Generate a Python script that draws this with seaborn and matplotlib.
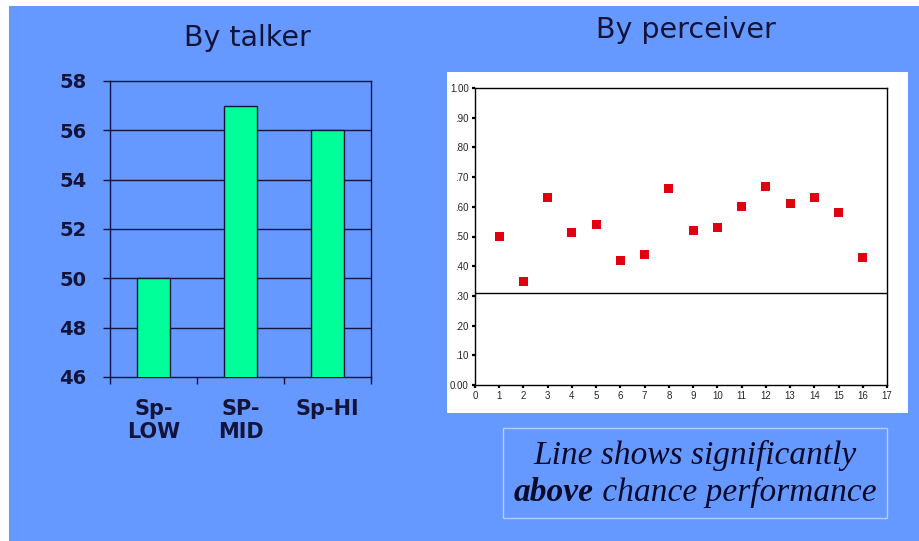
import numpy as np
import pandas as pd
import matplotlib
matplotlib.use("Agg")
import matplotlib.pyplot as plt
import seaborn as sns
from matplotlib.patches import Rectangle
from matplotlib.offsetbox import TextArea, HPacker, VPacker, AnchoredOffsetbox

# --- data ---
talker_labels = ["Sp-\nLOW", "SP-\nMID", "Sp-HI"]
talker_values = [50, 57, 56]

perceiver_ids = list(range(1, 17))
perceiver_scores = [0.50, 0.35, 0.63, 0.515, 0.54, 0.42, 0.44, 0.66,
                    0.52, 0.53, 0.60, 0.67, 0.61, 0.63, 0.58, 0.43]
chance_line = 0.31

talker_ticks = [46, 48, 50, 52, 54, 56, 58]
perceiver_yticks = [0.0, 0.1, 0.2, 0.3, 0.4, 0.5, 0.6, 0.7, 0.8, 0.9, 1.0]
perceiver_ylabels = ["0.00", ".10", ".20", ".30", ".40", ".50",
                     ".60", ".70", ".80", ".90", "1.00"]
perceiver_xticks = list(range(0, 18))

BLUE = "#6699ff"
NAVY = "#14143a"
GREEN = "#00ff99"
RED = "#e0000f"

sns.set_style("white")

W, H = 920, 541
fig = plt.figure(figsize=(W / 100, H / 100), dpi=100, facecolor="white")


def fig_rect(x0, y0, x1, y1):
    # pixel box (top-left origin) -> figure fraction rect
    return [x0 / W, 1 - y1 / H, (x1 - x0) / W, (y1 - y0) / H]


# slide background and white panel behind the scatter
fig.patches.append(Rectangle((9 / W, 0), 1, 1 - 6 / H, transform=fig.transFigure,
                             facecolor=BLUE, edgecolor="none", zorder=-2))
fig.patches.append(Rectangle((447 / W, 1 - 413 / H), (908 - 447) / W, (413 - 72) / H,
                             transform=fig.transFigure, facecolor="white",
                             edgecolor="none", zorder=-1))

# --- By talker: bar chart ---
ax1 = fig.add_axes(fig_rect(110, 81, 371, 377))
ax1.set_facecolor(BLUE)
talker_df = pd.DataFrame({"talker": talker_labels, "score": talker_values})
sns.barplot(data=talker_df, x="talker", y="score", ax=ax1, color=GREEN,
            width=0.39, edgecolor=NAVY, linewidth=1, saturation=1, zorder=3)
ax1.set_ylim(46, 58)
ax1.set_xlim(-0.5, 2.5)
ax1.set_yticks(talker_ticks)
ax1.set_yticklabels([str(t) for t in talker_ticks], fontsize=14,
                    fontweight="bold", color=NAVY)
ax1.set_xticklabels(talker_labels, fontsize=15, fontweight="bold", color=NAVY,
                    linespacing=1.15)
ax1.set_xticks([-0.5, 0.5, 1.5, 2.5], minor=True)
ax1.tick_params(axis="x", which="major", length=0, pad=16)
ax1.tick_params(axis="x", which="minor", length=5, width=1, color=NAVY,
                direction="out", bottom=True)
ax1.tick_params(axis="y", length=5, width=1, color=NAVY, direction="out",
                left=True, pad=12)
for y in talker_ticks[1:-1]:
    ax1.axhline(y, color=NAVY, lw=1, zorder=1)
for s in ax1.spines.values():
    s.set_color(NAVY)
    s.set_linewidth(1)
ax1.set_xlabel("")
ax1.set_ylabel("")
fig.text(247 / W, 1 - 38 / H, "By talker", fontsize=20.5, color=NAVY,
         ha="center", va="center")

# --- By perceiver: scatter ---
ax2 = fig.add_axes(fig_rect(475, 88, 887, 385))
ax2.set_facecolor("white")
perc_df = pd.DataFrame({"perceiver": perceiver_ids, "score": perceiver_scores})
sns.scatterplot(data=perc_df, x="perceiver", y="score", ax=ax2, marker="s",
                s=42, color=RED, edgecolor="none", zorder=3)
ax2.axhline(chance_line, color="black", lw=1, zorder=2)
ax2.set_xlim(0, 17)
ax2.set_ylim(0, 1)
ax2.set_xticks(perceiver_xticks)
ax2.set_xticklabels([str(t) for t in perceiver_xticks], fontsize=7,
                    family="Liberation Sans")
ax2.set_yticks(perceiver_yticks)
ax2.set_yticklabels(perceiver_ylabels, fontsize=7, family="Liberation Sans")
ax2.tick_params(axis="both", length=2.5, width=1.6, color="black",
                direction="out", bottom=True, left=True, pad=2)
for s in ax2.spines.values():
    s.set_color("black")
    s.set_linewidth(1)
ax2.set_xlabel("")
ax2.set_ylabel("")
fig.text(686 / W, 1 - 30 / H, "By perceiver", fontsize=20.5, color=NAVY,
         ha="center", va="center")

# --- caption box ---
fig.patches.append(Rectangle((503 / W, 1 - 518 / H), (887 - 503) / W, (518 - 428) / H,
                             transform=fig.transFigure, facecolor="none",
                             edgecolor="#b8ccff", lw=1, zorder=-1))
serif = dict(family="Liberation Serif", size=24, style="italic", color="#0a0a2a")
line1 = TextArea("Line shows significantly", textprops=serif)
bold_word = TextArea("above", textprops=dict(serif, weight="bold"))
rest = TextArea(" chance performance", textprops=serif)
line2 = HPacker(children=[bold_word, rest], align="baseline", pad=0, sep=0)
caption = VPacker(children=[line1, line2], align="center", pad=0, sep=4)
anchored = AnchoredOffsetbox(loc="center", child=caption, frameon=False,
                             bbox_to_anchor=(695 / W, 1 - 474 / H),
                             bbox_transform=fig.transFigure, borderpad=0, pad=0)
anchored.set_clip_on(False)
fig.add_artist(anchored)

fig.savefig("out.png", dpi=100, facecolor=fig.get_facecolor())
